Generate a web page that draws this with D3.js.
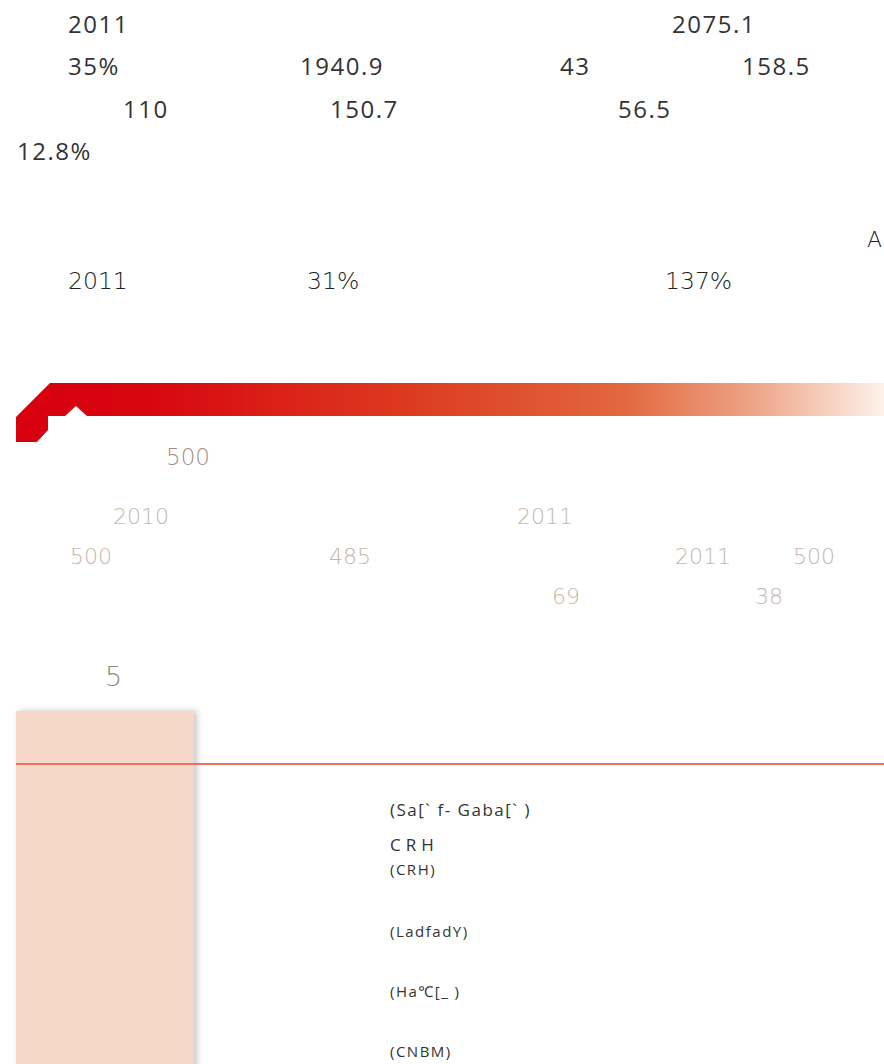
<!DOCTYPE html>
<html>
<head>
<meta charset="utf-8">
<script src="https://cdn.jsdelivr.net/npm/d3@7"></script>
<style>
  body { margin: 0; background: #fff; }
  svg { display: block; }
  .stat { font-family: "Open Sans", "Noto Sans", sans-serif; fill: #333; letter-spacing: 1.5px; }
  .narrow { font-family: "DejaVu Sans", sans-serif; font-stretch: condensed; font-weight: 200; }
</style>
</head>
<body>
<svg width="884" height="1064"></svg>
<script>
// figures
const statRows = [
  ["2011", "2075.1"],
  ["35%", "1940.9", "43", "158.5"],
  ["110", "150.7", "56.5"],
  ["12.8%"]
];
const growthMark = "A";
const growthRow = ["2011", "31%", "137%"];
const top500 = "500";
const rankRows = [
  ["2010", "2011"],
  ["500", "485", "2011", "500"],
  ["69", "38"]
];
const sectionNo = "5";
const companies = ["(Sa[` f- Gaba[` )", "CRH", "(CRH)", "(LadfadY)", "(Ha℃[_ )", "(CNBM)"];

// layout
const statX = [[68, 672], [68, 300, 560, 742], [123, 330, 618], [17]];
const growthX = [68, 307, 665];
const rankX = [[113, 517], [70, 329, 675, 793], [552, 755]];
const companySize = [17, 17, 15, 15, 15, 15];
const companySpacing = [1.5, 5, 1.5, 1.5, 1.5, 1.5];
const companyY = [816, 851, 875, 937, 997, 1057];

const svg = d3.select('svg');
const defs = svg.append('defs');

const grad = defs.append('linearGradient').attr('id', 'band')
  .attr('x1', '0%').attr('x2', '100%');
[[0, '#d7000f'], [0.15, '#d8060f'], [0.45, '#dc3a20'], [0.7, '#e2673f'], [0.85, '#eda587'], [1, '#fdf1ea']]
  .forEach(([o, c]) => grad.append('stop').attr('offset', o).attr('stop-color', c));

const shadow = defs.append('filter').attr('id', 'shadow')
  .attr('x', '-10%').attr('y', '-10%').attr('width', '130%').attr('height', '130%');
shadow.append('feDropShadow').attr('dx', 3).attr('dy', 0).attr('stdDeviation', 3)
  .attr('flood-color', '#000').attr('flood-opacity', 0.22);

// first block of figures
const statY = d3.scalePoint().domain(d3.range(statRows.length)).range([33, 160]);
statRows.forEach((row, r) => {
  svg.selectAll(null).data(row).join('text')
    .attr('class', 'stat')
    .attr('x', (d, i) => statX[r][i])
    .attr('y', statY(r))
    .attr('font-size', 24)
    .text(d => d);
});

// growth row
svg.append('text').attr('class', 'narrow')
  .attr('x', 867).attr('y', 247).attr('font-size', 22).attr('fill', '#222')
  .text(growthMark);
svg.selectAll(null).data(growthRow).join('text')
  .attr('class', 'narrow')
  .attr('x', (d, i) => growthX[i]).attr('y', 289)
  .attr('font-size', 23.5).attr('fill', '#222')
  .text(d => d);

// red banner
const band = d3.path();
band.moveTo(16, 417);
band.lineTo(50, 383);
band.lineTo(884, 383);
band.lineTo(884, 416);
band.lineTo(87, 416);
band.lineTo(76, 406);
band.lineTo(65, 416);
band.lineTo(48, 416);
band.lineTo(48, 430);
band.lineTo(37, 442);
band.lineTo(16, 442);
band.closePath();
svg.append('path').attr('d', band.toString()).attr('fill', 'url(#band)');

svg.append('text').attr('class', 'narrow')
  .attr('x', 166).attr('y', 465).attr('font-size', 23).attr('fill', '#a68c80')
  .text(top500);

// ranking figures
const rankY = d3.scalePoint().domain(d3.range(rankRows.length)).range([524, 604]);
rankRows.forEach((row, r) => {
  svg.selectAll(null).data(row).join('text')
    .attr('class', 'narrow')
    .attr('x', (d, i) => rankX[r][i])
    .attr('y', rankY(r))
    .attr('font-size', 22)
    .attr('fill', '#c8b5aa')
    .text(d => d);
});

svg.append('text').attr('class', 'narrow')
  .attr('x', 105).attr('y', 686).attr('font-size', 27).attr('fill', '#888')
  .text(sectionNo);

// side panel and rule
svg.append('rect').attr('x', 16).attr('y', 711).attr('width', 178).attr('height', 360)
  .attr('fill', '#f7d7c8').attr('filter', 'url(#shadow)');
svg.append('line').attr('x1', 16).attr('x2', 884).attr('y1', 764).attr('y2', 764)
  .attr('stroke', '#e6735b').attr('stroke-width', 2);

// company names
svg.selectAll(null).data(companies).join('text')
  .attr('class', 'stat')
  .attr('x', 390)
  .attr('y', (d, i) => companyY[i])
  .attr('font-size', (d, i) => companySize[i])
  .style('letter-spacing', (d, i) => companySpacing[i] + 'px')
  .text(d => d);
</script>
</body>
</html>
